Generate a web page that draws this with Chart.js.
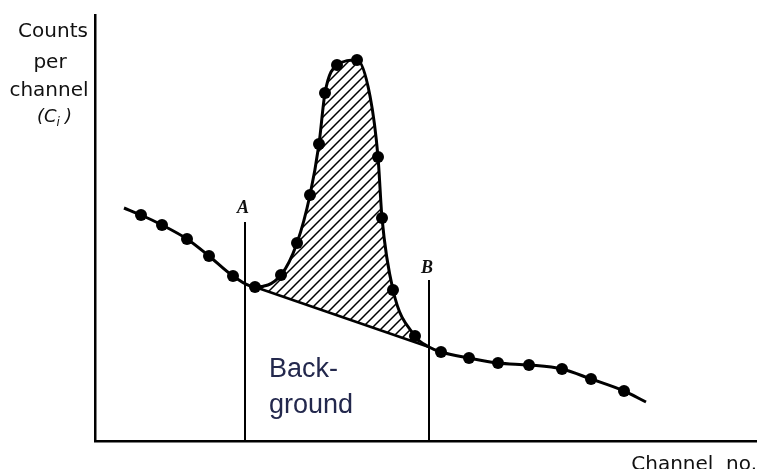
<!DOCTYPE html>
<html>
<head>
<meta charset="utf-8">
<script src="https://cdn.jsdelivr.net/npm/chart.js@4/dist/chart.umd.min.js"></script>
<style>
  html, body { margin: 0; padding: 0; background: #fff; }
</style>
</head>
<body>
<canvas id="spectrum" width="757" height="469"></canvas>
<script>
// Spectrum sketch: channel no. vs counts per channel
const channels = [29, 46, 67, 92, 114, 138, 160, 186, 202, 215, 224, 230, 242, 262, 275, 283, 287, 298, 320, 334, 346, 374, 403, 434, 467, 496, 529, 551];
const counts   = [233, 226, 216, 202, 185, 165, 154, 166, 198, 246, 297, 348, 376, 381, 345, 284, 223, 151, 105, 94, 89, 83, 78, 76, 72, 62, 50, 39];
const dotted   = [0, 1, 1, 1, 1, 1, 1, 1, 1, 1, 1, 1, 1, 1, 0, 1, 1, 1, 1, 0, 1, 1, 1, 1, 1, 1, 1, 0];

// straight background line under the peak
const bgChannels = [160, 334];
const bgCounts   = [154, 94];

// window limits A and B
const limitA = { channel: 150, height: 219 };
const limitB = { channel: 334, height: 161 };

// hatch pattern for the net peak area
const makeHatch = () => {
    const s = 10;
    const tile = document.createElement('canvas');
    tile.width = s;
    tile.height = s;
    const t = tile.getContext('2d');
    t.strokeStyle = '#000';
    t.lineWidth = 1.5;
    t.beginPath();
    t.moveTo(-1, 1); t.lineTo(1, -1);
    t.moveTo(0, s); t.lineTo(s, 0);
    t.moveTo(s - 1, s + 1); t.lineTo(s + 1, s - 1);
    t.stroke();
    return t.createPattern(tile, 'repeat');
};

const toXY = (xs, ys) => xs.map((x, i) => ({ x: x, y: ys[i] }));

// text on the sketch
const notes = {
    id: 'notes',
    afterDraw(chart) {
        const { ctx, scales: { x, y } } = chart;
        ctx.save();
        ctx.fillStyle = '#111';
        ctx.textAlign = 'center';
        ctx.textBaseline = 'alphabetic';
        ctx.font = '20px "DejaVu Sans", sans-serif';
        ctx.fillText('Counts', 53, 37);
        ctx.fillText('per', 50, 68);
        ctx.fillText('channel', 49, 96);

        // (C_i)
        ctx.textAlign = 'left';
        ctx.font = 'italic 18px "DejaVu Sans", sans-serif';
        let cx = 37;
        ctx.fillText('(C', cx, 122);
        cx += ctx.measureText('(C').width;
        ctx.font = 'italic 12px "DejaVu Sans", sans-serif';
        ctx.fillText('i', cx, 126);
        cx += ctx.measureText('i').width + 5;
        ctx.font = 'italic 18px "DejaVu Sans", sans-serif';
        ctx.fillText(')', cx, 122);

        // Channel no.
        ctx.textAlign = 'right';
        ctx.font = '20px "DejaVu Sans", sans-serif';
        ctx.fillText('Channel  no.', 757, 470);

        // A and B labels above the window lines
        ctx.textAlign = 'center';
        ctx.font = 'italic bold 18px "Liberation Serif", serif';
        ctx.fillText('A', x.getPixelForValue(limitA.channel) - 2, y.getPixelForValue(limitA.height) - 9);
        ctx.fillText('B', x.getPixelForValue(limitB.channel) - 2, y.getPixelForValue(limitB.height) - 7);

        // Background label
        ctx.textAlign = 'left';
        ctx.fillStyle = '#23284d';
        ctx.font = '27px "Liberation Sans", sans-serif';
        ctx.fillText('Back-', 269, 377);
        ctx.fillText('ground', 269, 413);
        ctx.restore();
    }
};

new Chart(document.getElementById('spectrum'), {
    type: 'scatter',
    data: {
        datasets: [
            {
                data: toXY(channels, counts),
                showLine: true,
                borderColor: '#000',
                borderWidth: 3,
                cubicInterpolationMode: 'monotone',
                pointRadius: dotted.map(d => d ? 6 : 0),
                pointBackgroundColor: '#000',
                pointBorderWidth: 0,
                fill: { target: 1 },
                backgroundColor: makeHatch()
            },
            {
                data: toXY(bgChannels, bgCounts),
                showLine: true,
                borderColor: '#000',
                borderWidth: 2.5,
                pointRadius: 0,
                fill: false
            },
            {
                data: [{ x: limitA.channel, y: 0 }, { x: limitA.channel, y: limitA.height }],
                showLine: true,
                borderColor: '#000',
                borderWidth: 2,
                pointRadius: 0,
                fill: false
            },
            {
                data: [{ x: limitB.channel, y: 0 }, { x: limitB.channel, y: limitB.height }],
                showLine: true,
                borderColor: '#000',
                borderWidth: 2,
                pointRadius: 0,
                fill: false
            }
        ]
    },
    options: {
        responsive: false,
        animation: false,
        devicePixelRatio: 1,
        layout: { padding: { left: 95, top: 15, right: 1, bottom: 28 } },
        plugins: {
            legend: { display: false },
            tooltip: { enabled: false }
        },
        scales: {
            x: {
                type: 'linear',
                min: 0,
                max: 661,
                ticks: { display: false },
                grid: { display: false, drawTicks: false },
                border: { display: true, color: '#000', width: 2.5 }
            },
            y: {
                min: 0,
                max: 426,
                ticks: { display: false },
                grid: { display: false, drawTicks: false },
                border: { display: true, color: '#000', width: 2.5 }
            }
        }
    },
    plugins: [notes]
});
</script>
</body>
</html>
